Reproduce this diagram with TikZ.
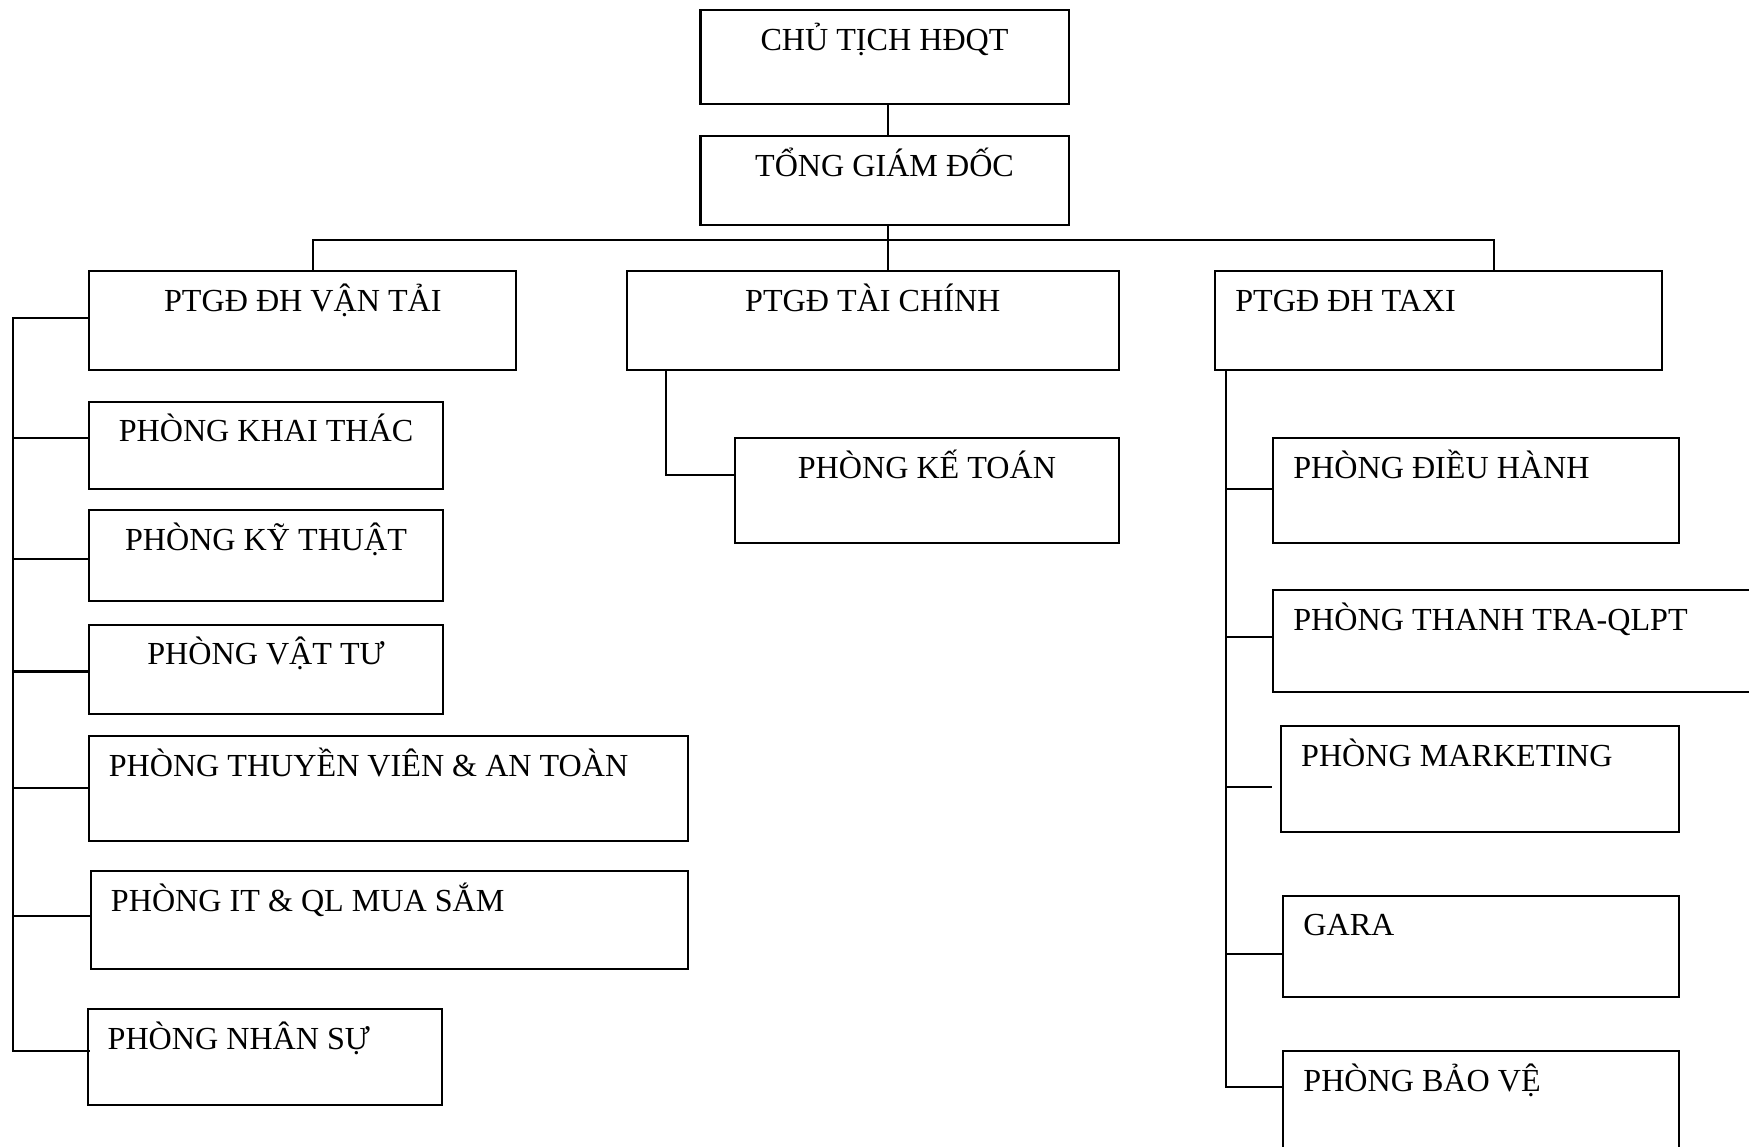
\documentclass[tikz,border=0pt]{standalone}
\usepackage{fontspec}
\setmainfont{Liberation Serif}
\usetikzlibrary{fit,calc}
\tikzset{
  box/.style={draw, line width=0.9pt, inner sep=0pt},
  lbl/.style={inner sep=0pt, font=\fontsize{14.4pt}{16pt}\selectfont},
  ctr/.style={lbl, anchor=base},
  lft/.style={lbl, anchor=base west},
  conn/.style={line width=0.9pt}
}
\begin{document}
\begin{tikzpicture}[x=0.5pt, y=-0.5pt]
\useasboundingbox (0,0) rectangle (1568,1028);
% top boxes
\node[box, fit={(628,9) (958,93)}] (chu) {};
\node[ctr] (chut) at ($(chu.north)+(0,37)$) {CHỦ TỊCH HĐQT};
\node[box, fit={(628,122) (958,202)}] (tong) {};
\node[ctr] (tongt) at ($(tong.north)+(0,37)$) {TỔNG GIÁM ĐỐC};
% deputies
\node[box, fit={(80,243) (463,332)}] (vt) {};
\node[ctr] (vtt) at ($(vt.north)+(0,37)$) {PTGĐ ĐH VẬN TẢI};
\node[box, fit={(562,243) (1003,332)}] (tc) {};
\node[ctr] (tct) at ($(tc.north)+(0,37)$) {PTGĐ TÀI CHÍNH};
\node[box, fit={(1089,243) (1490,332)}] (tx) {};
\node[lft] (txt) at ($(tx.north west)+(19,37)$) {PTGĐ ĐH TAXI};
% left column
\node[box, fit={(80,360) (397,438)}] (kt) {};
\node[ctr] (ktt) at ($(kt.north)+(0,37)$) {PHÒNG KHAI THÁC};
\node[box, fit={(80,457) (397,539)}] (kth) {};
\node[ctr] (ktht) at ($(kth.north)+(0,37)$) {PHÒNG KỸ THUẬT};
\node[box, fit={(80,560) (397,640)}] (vtu) {};
\node[ctr] (vtut) at ($(vtu.north)+(0,37)$) {PHÒNG VẬT TƯ};
\node[box, fit={(80,660) (617,754)}] (thv) {};
\node[lft] (thvt) at ($(thv.north west)+(18,37)$) {PHÒNG THUYỀN VIÊN \& AN TOÀN};
\node[box, fit={(82,781) (617,869)}] (it) {};
\node[lft] (itt) at ($(it.north west)+(18,37)$) {PHÒNG IT \& QL MUA SẮM};
\node[box, fit={(79,905) (396,991)}] (ns) {};
\node[lft] (nst) at ($(ns.north west)+(18,37)$) {PHÒNG NHÂN SỰ};
% middle
\node[box, fit={(659,393) (1003,487)}] (kto) {};
\node[ctr] (ktot) at ($(kto.north)+(0,37)$) {PHÒNG KẾ TOÁN};
% right column
\node[box, fit={(1141,393) (1505,487)}] (dh) {};
\node[lft] (dht) at ($(dh.north west)+(19,37)$) {PHÒNG ĐIỀU HÀNH};
\node[box, fit={(1141,529) (1600,620)}] (tt) {};
\node[lft] (ttt) at ($(tt.north west)+(19,37)$) {PHÒNG THANH TRA-QLPT};
\node[box, fit={(1148,651) (1505,746)}] (mk) {};
\node[lft] (mkt) at ($(mk.north west)+(19,37)$) {PHÒNG MARKETING};
\node[box, fit={(1150,803) (1505,894)}] (ga) {};
\node[lft] (gat) at ($(ga.north west)+(19,37)$) {GARA};
\node[box, fit={(1150,942) (1505,1070)}] (bv) {};
\node[lft] (bvt) at ($(bv.north west)+(19,37)$) {PHÒNG BẢO VỆ};
% connector coordinates
\coordinate (b1) at (281,215);
\coordinate (b2) at (796,215);
\coordinate (b3) at (1339,215);
\coordinate (lt) at (12,0);
\coordinate (rt) at (1099,0);
\coordinate (m) at (597,426);
\coordinate (vtc) at ($(vt.west)+(0,-2)$);
\coordinate (ktc) at ($(kt.west)+(0,-6)$);
\coordinate (kthc) at ($(kth.west)+(0,3)$);
\coordinate (vtuc) at ($(vtu.west)+(0,2)$);
\coordinate (thvc) at ($(thv.west)+(0,-1)$);
\coordinate (itc) at ($(it.west)+(0,-4)$);
\coordinate (nsc) at ($(ns.west)+(3,-6)$);
\coordinate (dhc) at ($(dh.west)+(0,-2)$);
\coordinate (ttc) at ($(tt.west)+(0,-3)$);
\coordinate (mkc) at ($(mk.west)+(-7,7)$);
\coordinate (gac) at ($(ga.west)+(0,7)$);
\coordinate (bvc) at ($(bv.north west)+(0,33)$);
% connectors
\draw[conn] (b2 |- chu.south) -- (b2 |- tong.north);
\draw[conn] (b2 |- tong.south) -- (b2 |- tc.north);
\draw[conn] (b1 |- vt.north) -- (b1) -- (b3) -- (b3 |- tx.north);
% left
\draw[conn] (vtc) -- (lt |- vtc) -- (lt |- nsc) -- (nsc);
\draw[conn] (lt |- ktc) -- (ktc);
\draw[conn] (lt |- kthc) -- (kthc);
\draw[conn] (lt |- vtuc) -- (vtuc);
\draw[conn] (lt |- thvc) -- (thvc);
\draw[conn] (lt |- itc) -- (itc);
% middle
\draw[conn] (m |- tc.south) -- (m) -- (m -| kto.west);
% right
\draw[conn] (rt |- tx.south) -- (rt |- bvc) -- (bvc);
\draw[conn] (rt |- dhc) -- (dhc);
\draw[conn] (rt |- ttc) -- (ttc);
\draw[conn] (rt |- mkc) -- (mkc);
\draw[conn] (rt |- gac) -- (gac);
\end{tikzpicture}
\end{document}
